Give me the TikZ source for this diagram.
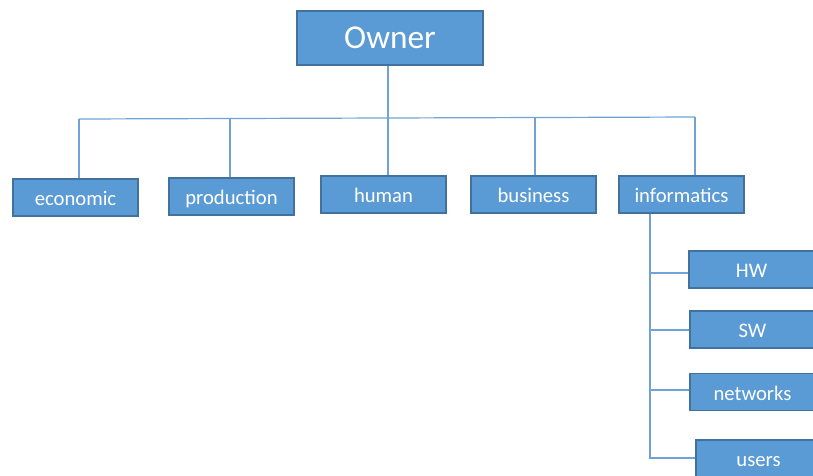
\documentclass[tikz,border=0pt]{standalone}
\usepackage{fontspec}
\setmainfont{Carlito}
\definecolor{boxfill}{HTML}{5B9BD5}
\definecolor{boxborder}{HTML}{41719C}
\definecolor{linkc}{HTML}{6FA3D6}
\begin{document}
\begin{tikzpicture}[x=0.75pt,y=-0.75pt,
  box/.style={draw=boxborder, fill=boxfill, text=white, font=\fontsize{15.5}{18}\selectfont,
    minimum width=93.75pt, minimum height=27.75pt, inner sep=0pt, line width=0.8pt,
    text height=12.5pt, text depth=0pt},
  link/.style={draw=linkc, line width=0.9pt}]
\useasboundingbox (0,0) rectangle (813,475);
\clip (0,0) rectangle (813,475);
\fill[white] (0,0) rectangle (813,475);
\node[box, minimum width=139.5pt, minimum height=40.5pt, font=\fontsize{25}{30}\selectfont,
  text height=15pt] (owner) at (390,38) {Owner};
\node[box] (eco) at (75.5,197.5) {economic};
\node[box] (prod) at (231.5,196.5) {production};
\node[box] (hum) at (383.5,194.5) {human};
\node[box] (bus) at (533.5,194.5) {business};
\node[box] (inf) at (681.5,194.5) {informatics};
\node[box] (hw) at (751.5,269.5) {HW};
\node[box] (sw) at (752.5,329.5) {SW};
\node[box] (net) at (752.5,392) {networks};
\node[box] (usr) at (758.5,458.5) {users};
% top bus
\coordinate (hl) at (388,118);
\coordinate (t1) at (79,119);
\coordinate (t2) at (230,118.5);
\coordinate (t3) at (388,118);
\coordinate (t4) at (535,117.5);
\coordinate (t5) at (695,117);
\draw[link] (owner.south -| hl) -- (hl);
\draw[link] (t1) -- (t5);
\draw[link] (t1) -- (t1 |- eco.north);
\draw[link] (t2) -- (t2 |- prod.north);
\draw[link] (t3) -- (t3 |- hum.north);
\draw[link] (t4) -- (t4 |- bus.north);
\draw[link] (t5) -- (t5 |- inf.north);
% informatics branch
\coordinate (v) at (650,216);
\coordinate (vb) at (650,459);
\draw[link] (v |- inf.south) -- (vb);
\draw[link] (650,273) -- (hw.west |- 0,273);
\draw[link] (650,330) -- (sw.west |- 0,330);
\draw[link] (650,390) -- (net.west |- 0,390);
\draw[link] (650,458) -- (usr.west |- 0,458);
\end{tikzpicture}
\end{document}
